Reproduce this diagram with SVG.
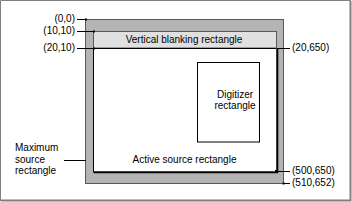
<svg xmlns="http://www.w3.org/2000/svg" width="352" height="202" viewBox="0 0 352 202">
  <style>
    text { font-family: "Liberation Sans", Arial, sans-serif; font-size: 10px; fill: #000; }
    .lead { stroke: #000; stroke-width: 1; fill: none; }
    .dot { fill: #000; }
  </style>
  <rect width="352" height="202" fill="#fff"/>
  <!-- window frame -->
  <path d="M0.5,201 V0.5 H351" stroke="#808080" stroke-width="1" fill="none"/>
  <path d="M1,200.5 H350.5 V1" stroke="#808080" stroke-width="2" fill="none"/>

  <g id="max-source">
    <rect x="85.5" y="19.5" width="198" height="164" fill="#b4b4b4" stroke="#5a5a5a" stroke-width="1"/>
    <text x="15" y="151">Maximum</text>
    <text x="15" y="162.5">source</text>
    <text x="15" y="174">rectangle</text>
  </g>

  <g id="blanking">
    <rect x="93.5" y="31.5" width="183" height="16.5" fill="#e0e0e0" stroke="#5a5a5a" stroke-width="1"/>
    <text x="184" y="43" text-anchor="middle">Vertical blanking rectangle</text>
  </g>

  <g id="active">
    <rect x="93.5" y="48" width="183" height="124" fill="#fff"/>
    <path d="M93.5,172 V48.5 H276" stroke="#000" stroke-width="1" fill="none"/>
    <path d="M93.5,172.3 H277.3 V48" stroke="#000" stroke-width="2" fill="none"/>
    <text x="184.5" y="163" text-anchor="middle">Active source rectangle</text>
  </g>

  <g id="digitizer">
    <rect x="197.5" y="62.5" width="62" height="79.5" fill="#fff" stroke="#000" stroke-width="1"/>
    <text x="235" y="97.5" text-anchor="middle">Digitizer</text>
    <text x="235" y="109" text-anchor="middle">rectangle</text>
  </g>

  <g id="connectors">
    <path class="lead" d="M77,19.5 H86"/>
    <path class="lead" d="M77,31.5 H94"/>
    <path class="lead" d="M77,48.5 H94"/>
    <path class="lead" d="M277,48.5 H290"/>
    <path class="lead" d="M277,171.5 H290"/>
    <path class="lead" d="M283,183.5 H290"/>
    <path class="lead" d="M64,160.5 H86"/>
    <rect class="dot" x="85" y="18.5" width="2" height="2"/>
    <rect class="dot" x="93" y="30.5" width="2" height="2"/>
    <rect class="dot" x="93" y="47.5" width="2" height="2"/>
    <rect class="dot" x="275" y="170" width="3" height="3"/>
    <rect class="dot" x="282.5" y="182.5" width="2" height="2"/>
  </g>

  <g id="coord-labels">
    <text x="75" y="21.5" text-anchor="end">(0,0)</text>
    <text x="75" y="33.5" text-anchor="end">(10,10)</text>
    <text x="75" y="50.5" text-anchor="end">(20,10)</text>
    <text x="292" y="50.5">(20,650)</text>
    <text x="292" y="174">(500,650)</text>
    <text x="292" y="186">(510,652)</text>
  </g>
</svg>
